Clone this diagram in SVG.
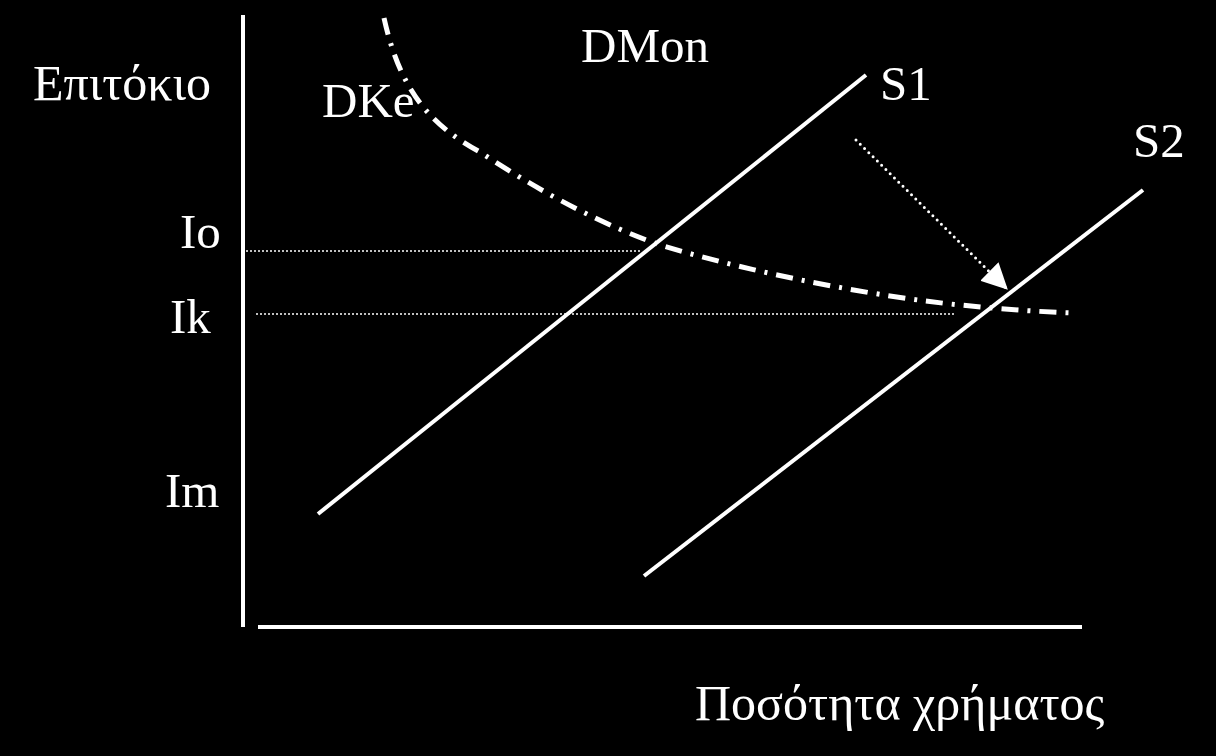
<svg xmlns="http://www.w3.org/2000/svg" width="1216" height="756" viewBox="0 0 1216 756">
<defs>
<style>
text{font-family:"Liberation Serif","Times New Roman",serif;font-size:49px;fill:#fff}
.big{font-size:50px}
.ax{stroke:#fff;stroke-width:4;fill:none}
.sl{stroke:#fff;stroke-width:4;fill:none}
.guide{stroke:#fff;stroke-width:1.5;stroke-dasharray:2 2;fill:none}
.dk{stroke:#fff;stroke-width:5;fill:none;stroke-dasharray:17 9 3 9}
.shift{stroke:#fff;stroke-width:3;stroke-linecap:round;stroke-dasharray:0 6;fill:none}
</style>
<marker id="ah" viewBox="0 0 10 10" refX="9" refY="5" markerWidth="26" markerHeight="26" markerUnits="userSpaceOnUse" orient="auto">
<path d="M0,0 L10,5 L0,10 z" fill="#fff"/>
</marker>
</defs>
<rect width="1216" height="756" fill="#000"/>
<g id="axes">
<line class="ax" x1="243" y1="15" x2="243" y2="627"/>
<line class="ax" x1="258" y1="627" x2="1082" y2="627"/>
</g>
<g id="connectors">
<line class="guide" x1="246" y1="251" x2="642" y2="251"/>
<line class="guide" x1="256" y1="314" x2="955" y2="314"/>
<line class="shift" x1="856" y1="140" x2="1006" y2="288" marker-end="url(#ah)"/>
</g>
<g id="S1"><line class="sl" x1="318" y1="514" x2="866" y2="75"/></g>
<g id="S2"><line class="sl" x1="644" y1="576" x2="1143" y2="190"/></g>
<g id="DKe-curve"><path class="dk" d="M384,18 C400,90 430,125 480,152 C530,185 590,220 660,245 C760,275 880,297 960,305 C1010,310 1045,312 1076,313"/></g>
<g id="labels">
<text class="big" x="33" y="100">Επιτόκιο</text>
<text x="322" y="117">DKe</text>
<text x="581" y="62">DMon</text>
<text x="880" y="100">S1</text>
<text x="1133" y="157">S2</text>
<text x="180" y="248">Io</text>
<text x="170" y="333">Ik</text>
<text x="165" y="507">Im</text>
<text class="big" x="695" y="720">Ποσότητα χρήματος</text>
</g>
</svg>
